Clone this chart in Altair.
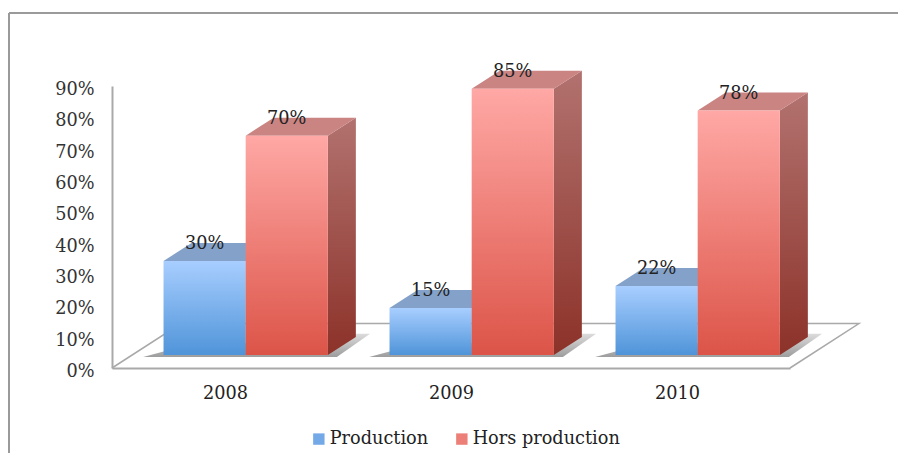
import altair as alt
import pandas as pd

years = ["2008", "2009", "2010"]
series = ["Production", "Hors production"]
production = [30, 15, 22]
hors_production = [70, 85, 78]

FONT = "DejaVu Serif"
FS = 17.7
DEPTH_X, DEPTH_Y = 0.124, 5.75
FLOOR_X, FLOOR_Y = 0.305, 14.2
BASE = 4.15
BAR_W = 0.3635
BAR_START = 0.228

xs = alt.Scale(domain=[0, 3], range=[104, 782], nice=False, zero=False)
ys = alt.Scale(domain=[0, 90], range=[360, 78], nice=False, zero=False)

x_axis = alt.Axis(
    values=[0.5, 1.5, 2.5], labelExpr="['2008','2009','2010'][floor(datum.value)]",
    grid=False, ticks=False, domainColor="#a9a9a9", domainWidth=2, labelFont=FONT, offset=-85,
    labelFontSize=FS, labelColor="#222222", labelPadding=16, labelAngle=0, title=None)
y_axis = alt.Axis(
    values=list(range(0, 100, 10)), labelExpr="datum.value + '%'",
    grid=False, ticks=False, domainColor="#a9a9a9", domainWidth=2, labelFont=FONT, offset=-104,
    labelFontSize=FS, labelColor="#333333", labelPadding=18, labelOffset=3.5, title=None)


def grad(top, bottom):
    return alt.Gradient(
        gradient="linear", x1=0, x2=0, y1=0, y2=1,
        stops=[alt.GradientStop(offset=0, color=top), alt.GradientStop(offset=1, color=bottom)],
    )


def X(field="x"):
    return alt.X(f"{field}:Q", scale=xs, axis=x_axis)


def Y(field="y"):
    return alt.Y(f"{field}:Q", scale=ys, axis=y_axis)


rows = []
for i, y in enumerate(years):
    for j, (s, vals) in enumerate(zip(series, [production, hors_production])):
        left = i + BAR_START + j * BAR_W
        rows.append(dict(year=y, series=s, k=f"{y}{s}", v=vals[i], left=left, right=left + BAR_W,
                         top=vals[i] + BASE, base=BASE, label=f"{vals[i]}%",
                         cx=left + BAR_W / 2, ly=vals[i] + BASE + DEPTH_Y - 0.3))
bars = pd.DataFrame(rows)

top_rows, side_rows, shadow_rows = [], [], []
for r in rows:
    t = r["top"]
    for x, a, b in [(r["left"], t, t), (r["left"] + DEPTH_X, t + DEPTH_Y, t),
                    (r["right"], t + DEPTH_Y, t), (r["right"] + DEPTH_X, t + DEPTH_Y, t + DEPTH_Y)]:
        top_rows.append(dict(series=r["series"], k=r["k"], x=x, y=a, y2=b))
    for x, a, b in [(r["right"], t, BASE), (r["right"] + DEPTH_X, t + DEPTH_Y, BASE + DEPTH_Y)]:
        side_rows.append(dict(series=r["series"], k=r["k"], x=x, y=a, y2=b))
tops = pd.DataFrame(top_rows)
sides = pd.DataFrame(side_rows)

for i, y in enumerate(years):
    start = i + BAR_START
    end = start + 2 * BAR_W
    low = BASE - 0.6
    for x, a, b in [(start - 0.09, low, low), (start, BASE + 1.1, low), (end + 0.04, BASE + 6.8, low),
                    (end + 0.187, BASE + 6.8, BASE + 6.8)]:
        shadow_rows.append(dict(k=y, x=x, y=a, y2=b))
shadow = pd.DataFrame(shadow_rows)

floor = pd.DataFrame({"x": [0, FLOOR_X, 3 + FLOOR_X, 3], "y": [0, FLOOR_Y, FLOOR_Y, 0], "o": [0, 1, 2, 3]})

frame_h = alt.Chart(pd.DataFrame({"a": [0]})).mark_rule(color="#9a9a9a", strokeWidth=2).encode(
    x=alt.value(1), x2=alt.value(890), y=alt.value(5))
frame_v = alt.Chart(pd.DataFrame({"a": [0]})).mark_rule(color="#9a9a9a", strokeWidth=2).encode(
    x=alt.value(1), y=alt.value(5), y2=alt.value(445))

legend_src = alt.Chart(pd.DataFrame({"x": [0, 0], "y": [0, 0], "series": series})).mark_square(size=0).encode(
    x=X(), y=Y(),
    color=alt.Color("series:N", sort=series,
                    scale=alt.Scale(domain=series, range=["#74a9e8", "#ec7f78"]),
                    legend=alt.Legend(orient="none", legendX=302, legendY=422, direction="horizontal",
                                      title=None, symbolType="square", symbolSize=130, symbolStrokeWidth=0,
                                      symbolOpacity=1, labelFont=FONT, labelFontSize=FS,
                                      labelColor="#222222", columnPadding=24, labelOffset=2)),
)

floor_line = alt.Chart(floor).mark_line(color="#a9a9a9", strokeWidth=1.5).encode(x=X(), y=Y(), order="o:Q")

shadow_layer = alt.Chart(shadow).mark_area(orient="vertical", color=grad("#d6d6d6", "#8c8c8c"), opacity=0.85).encode(
    x=X(), y=Y(), y2="y2:Q", detail="k:N")


def faces(name, front_top, front_bottom, top_col, side_top, side_bottom):
    b = bars[bars.series == name]
    t = tops[tops.series == name]
    s = sides[sides.series == name]
    return [
        alt.Chart(s).mark_area(orient="vertical", color=grad(side_top, side_bottom)).encode(
            x=X(), y=Y(), y2="y2:Q", detail="k:N"),
        alt.Chart(t).mark_area(orient="vertical", color=top_col).encode(
            x=X(), y=Y(), y2="y2:Q", detail="k:N"),
        alt.Chart(b).mark_rect(color=grad(front_top, front_bottom)).encode(
            x=X("left"), x2="right:Q", y=Y("top"), y2="base:Q"),
    ]


labels = alt.Chart(bars).mark_text(font=FONT, fontSize=FS, color="#222222").encode(
    x=X("cx"), y=Y("ly"), text="label:N")

chart = alt.layer(
    frame_h, frame_v, floor_line, legend_src, shadow_layer,
    *faces(series[0], "#a8ceff", "#4f94d9", "#84a2c9", "#7f9cc4", "#3c6fa5"),
    *faces(series[1], "#ffa8a5", "#dc5448", "#ca8482", "#b2726f", "#8c3229"),
    labels,
).properties(
    width=890, height=445, padding=0, autosize=alt.AutoSizeParams(type="none"), background="white",
).configure_view(stroke=None)

chart.save("out.html", embed_options={"renderer": "svg", "actions": False})
